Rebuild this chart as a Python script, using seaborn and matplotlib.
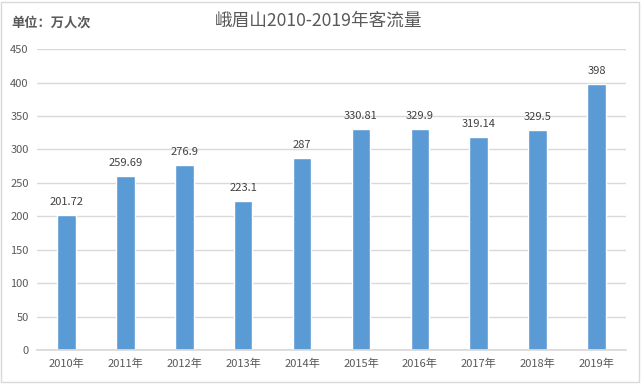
import matplotlib
matplotlib.use('Agg')
import matplotlib.pyplot as plt
import seaborn as sns
import pandas as pd

# data
years = ['2010年', '2011年', '2012年', '2013年', '2014年',
         '2015年', '2016年', '2017年', '2018年', '2019年']
visitors = [201.72, 259.69, 276.9, 223.1, 287, 330.81, 329.9, 319.14, 329.5, 398]
value_labels = ['201.72', '259.69', '276.9', '223.1', '287',
                '330.81', '329.9', '319.14', '329.5', '398']
y_ticks = list(range(0, 451, 50))

df = pd.DataFrame({'year': years, 'visitors': visitors})

sns.set_theme(style='white')
plt.rcParams['font.family'] = ['Noto Sans CJK SC', 'DejaVu Sans']

fig = plt.figure(figsize=(6.42, 3.84), dpi=100)
fig.patch.set_facecolor('white')
ax = fig.add_axes([0.0576, 0.0885, 0.9175, 0.7835])

sns.barplot(data=df, x='year', y='visitors', color='#5B9BD5', width=0.315,
            saturation=1, ax=ax)

ax.set_ylim(0, 450)
ax.set_yticks(y_ticks)
ax.yaxis.grid(True, color='#d9d9d9', linewidth=1)
ax.set_axisbelow(True)
for side in ['top', 'right', 'left']:
    ax.spines[side].set_visible(False)
ax.spines['bottom'].set_color('#d9d9d9')
ax.tick_params(axis='both', length=0, labelsize=8, colors='#595959', pad=6)
ax.set_xlabel('')
ax.set_ylabel('')

for i, v in enumerate(visitors):
    ax.text(i, v + 12, value_labels[i], ha='center', va='bottom',
            fontsize=8, color='#404040')

fig.text(0.496, 0.947, '峨眉山2010-2019年客流量', ha='center', va='center',
         fontsize=12.7, color='#595959')
fig.text(0.018, 0.94, '单位：万人次', ha='left', va='center',
         fontsize=9.5, color='#595959', fontweight='bold')

# light frame around the chart
fig.patches.append(plt.Rectangle((0.002, 0.004), 0.994, 0.99, transform=fig.transFigure,
                                 fill=False, edgecolor='#d9d9d9', linewidth=1))

fig.savefig('out.png', dpi=100)
